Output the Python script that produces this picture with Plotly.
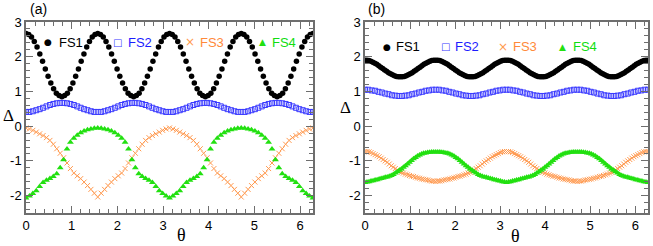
import numpy as np
import plotly.graph_objects as go
from plotly.subplots import make_subplots

# ---------------- data ----------------
x_tick_vals = [0, 1, 2, 3, 4, 5, 6]
x_tick_text = ["0", "1", "2", "3", "4", "5", "6"]
y_tick_vals = [-2, -1, 0, 1, 2, 3]
y_tick_text = ["-2", "-1", "0", "1", "2", "3"]
series_names = ["FS1", "FS2", "FS3", "FS4"]

# sampling angles of each series
theta_a_fs1 = np.linspace(0, 2 * np.pi, 105)
theta_a_fs2 = np.linspace(0, 2 * np.pi, 85)
theta_a_fs34 = np.linspace(0, 2 * np.pi, 85)
theta_b_fs1 = np.linspace(0, 2 * np.pi, 145)
theta_b_fs2 = np.linspace(0, 2 * np.pi, 85)
theta_b_fs34 = np.linspace(0, 2 * np.pi, 141)

# panel (a)
a_fs1 = [2.67, 2.64, 2.57, 2.44, 2.28, 2.08, 1.87, 1.65, 1.44, 1.24, 1.08, 0.95, 0.88, 0.85, 0.88, 0.95, 1.08, 1.24, 1.44, 1.65, 1.87, 2.08, 2.28, 2.44, 2.57, 2.64,
         2.67, 2.64, 2.57, 2.44, 2.28, 2.08, 1.87, 1.65, 1.44, 1.24, 1.08, 0.95, 0.88, 0.85, 0.88, 0.95, 1.08, 1.24, 1.44, 1.65, 1.87, 2.08, 2.28, 2.44, 2.57, 2.64,
         2.67, 2.64, 2.57, 2.44, 2.28, 2.08, 1.87, 1.65, 1.44, 1.24, 1.08, 0.95, 0.88, 0.85, 0.88, 0.95, 1.08, 1.24, 1.44, 1.65, 1.87, 2.08, 2.28, 2.44, 2.57, 2.64,
         2.67, 2.64, 2.57, 2.44, 2.28, 2.08, 1.87, 1.65, 1.44, 1.24, 1.08, 0.95, 0.88, 0.85, 0.88, 0.95, 1.08, 1.24, 1.44, 1.65, 1.87, 2.08, 2.28, 2.44, 2.57, 2.64,
         2.67]
a_fs2 = [0.41, 0.41, 0.43, 0.46, 0.49, 0.53, 0.57, 0.61, 0.64, 0.66, 0.67, 0.67, 0.66, 0.64, 0.61, 0.57, 0.53, 0.49, 0.46, 0.43, 0.41,
         0.41, 0.41, 0.43, 0.46, 0.49, 0.53, 0.57, 0.61, 0.64, 0.66, 0.67, 0.67, 0.66, 0.64, 0.61, 0.57, 0.53, 0.49, 0.46, 0.43, 0.41,
         0.41, 0.41, 0.43, 0.46, 0.49, 0.53, 0.57, 0.61, 0.64, 0.66, 0.67, 0.67, 0.66, 0.64, 0.61, 0.57, 0.53, 0.49, 0.46, 0.43, 0.41,
         0.41, 0.41, 0.43, 0.46, 0.49, 0.53, 0.57, 0.61, 0.64, 0.66, 0.67, 0.67, 0.66, 0.64, 0.61, 0.57, 0.53, 0.49, 0.46, 0.43, 0.41,
         0.41]
a_fs3 = [-0.05, -0.08, -0.12, -0.17, -0.22, -0.27, -0.33, -0.41, -0.52, -0.65, -0.78, -0.91, -1.06, -1.22, -1.35, -1.43, -1.51, -1.61, -1.71, -1.82, -1.93, -2.04,
         -1.93, -1.82, -1.71, -1.61, -1.51, -1.43, -1.35, -1.22, -1.06, -0.91, -0.78, -0.65, -0.52, -0.41, -0.33, -0.27, -0.22, -0.17, -0.12, -0.08, -0.05,
         -0.08, -0.12, -0.17, -0.22, -0.27, -0.33, -0.41, -0.52, -0.65, -0.78, -0.91, -1.06, -1.22, -1.35, -1.43, -1.51, -1.61, -1.71, -1.82, -1.93, -2.04,
         -1.93, -1.82, -1.71, -1.61, -1.51, -1.43, -1.35, -1.22, -1.06, -0.91, -0.78, -0.65, -0.52, -0.41, -0.33, -0.27, -0.22, -0.17, -0.12, -0.08, -0.05]
a_fs4 = [-2.07, -2.01, -1.94, -1.86, -1.74, -1.62, -1.56, -1.51, -1.45, -1.37, -1.20, -0.97, -0.66, -0.46, -0.35, -0.26, -0.19, -0.14, -0.10, -0.08, -0.06, -0.05,
         -0.06, -0.08, -0.10, -0.14, -0.19, -0.26, -0.35, -0.46, -0.66, -0.97, -1.20, -1.37, -1.45, -1.51, -1.56, -1.62, -1.74, -1.86, -1.94, -2.01, -2.07,
         -2.01, -1.94, -1.86, -1.74, -1.62, -1.56, -1.51, -1.45, -1.37, -1.20, -0.97, -0.66, -0.46, -0.35, -0.26, -0.19, -0.14, -0.10, -0.08, -0.06, -0.05,
         -0.06, -0.08, -0.10, -0.14, -0.19, -0.26, -0.35, -0.46, -0.66, -0.97, -1.20, -1.37, -1.45, -1.51, -1.56, -1.62, -1.74, -1.86, -1.94, -2.01, -2.07]

# panel (b)
b_fs1 = [1.90, 1.90, 1.89, 1.87, 1.84, 1.81, 1.78, 1.74, 1.70, 1.66, 1.62, 1.58, 1.54, 1.51, 1.48, 1.45, 1.43, 1.42, 1.42, 1.42, 1.43, 1.45, 1.48, 1.51, 1.54, 1.58, 1.62, 1.66, 1.70, 1.74, 1.78, 1.81, 1.84, 1.87, 1.89, 1.90,
         1.90, 1.90, 1.89, 1.87, 1.84, 1.81, 1.78, 1.74, 1.70, 1.66, 1.62, 1.58, 1.54, 1.51, 1.48, 1.45, 1.43, 1.42, 1.42, 1.42, 1.43, 1.45, 1.48, 1.51, 1.54, 1.58, 1.62, 1.66, 1.70, 1.74, 1.78, 1.81, 1.84, 1.87, 1.89, 1.90,
         1.90, 1.90, 1.89, 1.87, 1.84, 1.81, 1.78, 1.74, 1.70, 1.66, 1.62, 1.58, 1.54, 1.51, 1.48, 1.45, 1.43, 1.42, 1.42, 1.42, 1.43, 1.45, 1.48, 1.51, 1.54, 1.58, 1.62, 1.66, 1.70, 1.74, 1.78, 1.81, 1.84, 1.87, 1.89, 1.90,
         1.90, 1.90, 1.89, 1.87, 1.84, 1.81, 1.78, 1.74, 1.70, 1.66, 1.62, 1.58, 1.54, 1.51, 1.48, 1.45, 1.43, 1.42, 1.42, 1.42, 1.43, 1.45, 1.48, 1.51, 1.54, 1.58, 1.62, 1.66, 1.70, 1.74, 1.78, 1.81, 1.84, 1.87, 1.89, 1.90,
         1.90]
b_fs2 = [1.05, 1.05, 1.03, 1.02, 0.99, 0.97, 0.94, 0.92, 0.89, 0.88, 0.87, 0.87, 0.88, 0.89, 0.92, 0.94, 0.97, 0.99, 1.02, 1.03, 1.05,
         1.05, 1.05, 1.03, 1.02, 0.99, 0.97, 0.94, 0.92, 0.89, 0.88, 0.87, 0.87, 0.88, 0.89, 0.92, 0.94, 0.97, 0.99, 1.02, 1.03, 1.05,
         1.05, 1.05, 1.03, 1.02, 0.99, 0.97, 0.94, 0.92, 0.89, 0.88, 0.87, 0.87, 0.88, 0.89, 0.92, 0.94, 0.97, 0.99, 1.02, 1.03, 1.05,
         1.05, 1.05, 1.03, 1.02, 0.99, 0.97, 0.94, 0.92, 0.89, 0.88, 0.87, 0.87, 0.88, 0.89, 0.92, 0.94, 0.97, 0.99, 1.02, 1.03, 1.05,
         1.05]
b_fs3 = [-0.73, -0.73, -0.74, -0.76, -0.79, -0.82, -0.85, -0.88, -0.92, -0.96, -1.00, -1.04, -1.09, -1.14, -1.18, -1.22, -1.26, -1.30, -1.33, -1.35, -1.38, -1.40, -1.42, -1.44, -1.45, -1.47, -1.49, -1.50, -1.52, -1.53, -1.54, -1.55, -1.57, -1.58, -1.58, -1.59,
         -1.58, -1.58, -1.57, -1.55, -1.54, -1.53, -1.52, -1.50, -1.49, -1.47, -1.45, -1.44, -1.42, -1.40, -1.38, -1.35, -1.33, -1.30, -1.26, -1.22, -1.18, -1.14, -1.09, -1.04, -1.00, -0.96, -0.92, -0.88, -0.85, -0.82, -0.79, -0.76, -0.74, -0.73, -0.73,
         -0.73, -0.74, -0.76, -0.79, -0.82, -0.85, -0.88, -0.92, -0.96, -1.00, -1.04, -1.09, -1.14, -1.18, -1.22, -1.26, -1.30, -1.33, -1.35, -1.38, -1.40, -1.42, -1.44, -1.45, -1.47, -1.49, -1.50, -1.52, -1.53, -1.54, -1.55, -1.57, -1.58, -1.58, -1.59,
         -1.58, -1.58, -1.57, -1.55, -1.54, -1.53, -1.52, -1.50, -1.49, -1.47, -1.45, -1.44, -1.42, -1.40, -1.38, -1.35, -1.33, -1.30, -1.26, -1.22, -1.18, -1.14, -1.09, -1.04, -1.00, -0.96, -0.92, -0.88, -0.85, -0.82, -0.79, -0.76, -0.74, -0.73, -0.73]
b_fs4 = [-1.62, -1.61, -1.60, -1.58, -1.57, -1.55, -1.54, -1.52, -1.51, -1.49, -1.47, -1.46, -1.44, -1.42, -1.39, -1.35, -1.31, -1.27, -1.23, -1.18, -1.14, -1.09, -1.04, -0.99, -0.94, -0.90, -0.86, -0.83, -0.80, -0.78, -0.77, -0.76, -0.75, -0.74, -0.74, -0.74,
         -0.74, -0.74, -0.75, -0.76, -0.77, -0.78, -0.80, -0.83, -0.86, -0.90, -0.94, -0.99, -1.04, -1.09, -1.14, -1.18, -1.23, -1.27, -1.31, -1.35, -1.39, -1.42, -1.44, -1.46, -1.47, -1.49, -1.51, -1.52, -1.54, -1.55, -1.57, -1.58, -1.60, -1.61, -1.62,
         -1.61, -1.60, -1.58, -1.57, -1.55, -1.54, -1.52, -1.51, -1.49, -1.47, -1.46, -1.44, -1.42, -1.39, -1.35, -1.31, -1.27, -1.23, -1.18, -1.14, -1.09, -1.04, -0.99, -0.94, -0.90, -0.86, -0.83, -0.80, -0.78, -0.77, -0.76, -0.75, -0.74, -0.74, -0.74,
         -0.74, -0.74, -0.75, -0.76, -0.77, -0.78, -0.80, -0.83, -0.86, -0.90, -0.94, -0.99, -1.04, -1.09, -1.14, -1.18, -1.23, -1.27, -1.31, -1.35, -1.39, -1.42, -1.44, -1.46, -1.47, -1.49, -1.51, -1.52, -1.54, -1.55, -1.57, -1.58, -1.60, -1.61, -1.62]

# ---------------- styles ----------------
C1, C2, C3, C4 = "#000000", "#3a3aff", "#ff9a50", "#22e010"
T2, T3, T4 = "#1c1cff", "#ff8a3a", "#10dd10"
SANS = "Liberation Sans, Arial, sans-serif"
SERIF = "Liberation Serif, Times New Roman, serif"
AX = "#6e6e6e"

fig = make_subplots(rows=1, cols=2, horizontal_spacing=0.08)


def add_panel(col, th1, y1, th2, y2, th34, y3, y4, s1):
    fig.add_trace(go.Scatter(x=th1, y=y1, mode="markers", name=series_names[0],
                             marker=dict(symbol="circle", size=s1, color=C1, line=dict(width=0))),
                  row=1, col=col)
    fig.add_trace(go.Scatter(x=th2, y=y2, mode="markers", name=series_names[1],
                             marker=dict(symbol="square-open", size=5, color=C2, line=dict(width=1, color=C2))),
                  row=1, col=col)
    fig.add_trace(go.Scatter(x=th34, y=y3, mode="markers", name=series_names[2],
                             marker=dict(symbol="x-thin-open", size=5, color=C3, line=dict(width=1, color=C3))),
                  row=1, col=col)
    fig.add_trace(go.Scatter(x=th34, y=y4, mode="markers", name=series_names[3],
                             marker=dict(symbol="triangle-up", size=6, color=C4, line=dict(width=0))),
                  row=1, col=col)


add_panel(1, theta_a_fs1, a_fs1, theta_a_fs2, a_fs2, theta_a_fs34, a_fs3, a_fs4, 5.5)
add_panel(2, theta_b_fs1, b_fs1, theta_b_fs2, b_fs2, theta_b_fs34, b_fs3, b_fs4, 5.5)

axis_common = dict(showgrid=False, zeroline=False, showline=True, linecolor=AX, linewidth=1.5,
                   mirror="ticks", ticks="inside", ticklen=7, tickwidth=1, tickcolor=AX,
                   automargin=False,
                   tickfont=dict(family=SANS, size=13, color="black"))

for i, dom in ((1, [0.0, 0.4614]), (2, [0.545, 1.0])):
    sfx = "" if i == 1 else str(i)
    fig.layout["xaxis" + sfx].update(domain=dom, range=[0, 2 * np.pi], tickmode="array",
                                     tickvals=x_tick_vals, ticktext=x_tick_text,
                                     minor=dict(tickmode="linear", tick0=0, dtick=0.2, ticklen=4,
                                                tickcolor=AX, ticks="inside"),
                                     **axis_common)
    fig.layout["yaxis" + sfx].update(range=[-2.5, 3], tickmode="array",
                                     tickvals=y_tick_vals, ticktext=y_tick_text,
                                     minor=dict(tickmode="linear", tick0=0, dtick=0.2, ticklen=4,
                                                tickcolor=AX, ticks="inside"),
                                     **axis_common)

W_PLOT = 622.0
H_PLOT = 191.0


def px(xp):
    return (xp - 26) / W_PLOT


def py(yp):
    return (213 - yp) / H_PLOT


ann = []


def label(text, x, y, family, size, color="black"):
    ann.append(dict(text=text, x=px(x), y=py(y), xref="paper", yref="paper", showarrow=False,
                    xanchor="center", yanchor="middle",
                    font=dict(family=family, size=size, color=color)))


# panel labels and axis titles
label("(a)", 38, 9, SANS, 14)
label("(b)", 376, 9, SANS, 14)
label("θ", 181.5, 235, SERIF, 18)
label("θ", 515.5, 236, SERIF, 18)
label("Δ", 8.5, 115, SERIF, 17)
label("Δ", 345, 107, SERIF, 17)

# in-plot legends (symbol + coloured label)
legend_a = [(48, 57, "●", C1, "black", 9), (117, 126, "□", C2, T2, 10),
            (190, 198, "×", C3, T3, 12), (262, 270, "▲", C4, T4, 9)]
legend_b = [(387, 394, "●", C1, "black", 9), (445, 453, "□", C2, T2, 10),
            (503, 511, "×", C3, T3, 12), (562, 571, "▲", C4, T4, 9)]
for items, yy in ((legend_a, 42), (legend_b, 47)):
    for (xs, xt, sym, sc, tc, ss), name in zip(items, series_names):
        label(sym, xs, yy, "DejaVu Sans", ss, sc)
        ann.append(dict(text=name, x=px(xt), y=py(yy), xref="paper", yref="paper", showarrow=False,
                        xanchor="left", yanchor="middle",
                        font=dict(family=SANS, size=13, color=tc)))

fig.update_layout(width=653, height=246, margin=dict(l=26, r=5, t=22, b=33),
                  paper_bgcolor="white", plot_bgcolor="white", showlegend=False,
                  annotations=ann)

fig.write_html("out.html", config={"displayModeBar": False},
               post_script="document.body.style.margin='0px';document.body.style.overflow='hidden';")
